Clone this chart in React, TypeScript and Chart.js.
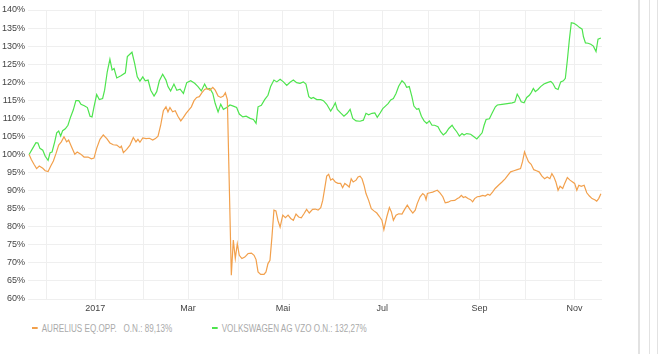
import React, { useEffect, useRef } from "react";
import { Chart, registerables } from "chart.js";

Chart.register(...registerables);

// x = trading-day index (0 = 21 Nov 2016, weekdays only)
const monthTickIdx = [8, 30, 52, 72, 95, 115, 138, 160, 181, 204, 225, 247];
const monthTickLabels = ["", "2017", "", "Mar", "", "Mai", "", "Jul", "", "Sep", "", "Nov"];

const seriesNames = ["AURELIUS EQ.OPP.   O.N.", "VOLKSWAGEN AG VZO O.N."];
const seriesColors = ["#f2a04c", "#4ee44e"];

const aureliusIdx = [
  0, 1.0, 2.2, 3.4, 4.6, 6.2, 7.3, 8.6, 9.8, 11.0, 12.2, 13.4, 14.6, 15.8, 17.0, 17.9, 19.1, 20.7, 21.8, 23.4,
  24.9, 26.7, 28.2, 29.4, 30.6, 32.1, 33.6, 35.2, 36.6, 38.1, 39.7, 41.2, 41.8, 42.7, 44.2, 45.7, 47.2, 48.4, 49.3, 50.2,
  51.5, 53.0, 54.5, 56.0, 57.2, 58.4, 59.6, 60.8, 62.0, 62.9, 63.8, 65.0, 66.2, 67.4, 68.7, 69.9, 71.1, 72.3, 73.5, 74.7,
  75.9, 77.1, 78.3, 79.5, 80.7, 81.9, 83.2, 84.3, 85.6, 86.8, 88.0, 88.9, 89.8, 91.6, 92.5, 93.4, 94.3, 95.2, 96.4, 97.7,
  99.2, 100.7, 101.9, 102.8, 103.7, 104.9, 106.4, 107.3, 108.2, 109.1, 110.0, 110.9, 111.8, 112.7, 113.7, 114.9, 116.1, 117.3, 118.5, 119.7,
  120.9, 122.1, 123.3, 124.5, 125.7, 126.9, 128.4, 129.6, 130.9, 132.1, 133.0, 133.9, 134.8, 135.7, 136.6, 137.5, 138.7, 139.9, 141.1, 142.0,
  143.0, 144.1, 145.0, 145.9, 146.8, 148.1, 149.0, 149.9, 150.8, 151.7, 152.6, 153.8, 155.0, 156.2, 157.5, 158.6, 159.8, 160.7, 162.0, 163.2,
  164.1, 165.0, 166.2, 167.4, 168.9, 170.1, 171.3, 172.5, 173.8, 174.9, 175.8, 177.1, 178.3, 179.2, 179.8, 180.4, 181.6, 182.8, 184.0, 184.9,
  186.1, 187.4, 188.5, 189.8, 191.0, 192.8, 194.0, 194.9, 195.8, 196.7, 197.6, 198.8, 200.0, 200.9, 201.8, 203.0, 204.2, 205.5, 206.6, 207.8,
  208.7, 209.9, 211.1, 212.6, 214.2, 215.7, 216.9, 218.1, 219.6, 221.1, 222.6, 223.5, 224.4, 225.3, 226.2, 227.4, 228.6, 229.8, 231.0, 232.3,
  233.5, 234.7, 235.9, 236.8, 237.7, 238.6, 239.6, 240.5, 241.7, 242.6, 243.8, 245.0, 246.2, 247.1, 248.1, 249.0, 250.1, 251.4, 252.6, 253.8,
  255.0, 256.2, 257.1, 258.0, 259,
];
const aureliusPct = [
  100, 98.6, 97.3, 96.1, 96.8, 96.2, 95.5, 95.3, 96.8, 98.2, 100.3, 102.6, 103.5, 104.9, 103.5, 104.0, 102.3, 100.1, 100.7, 100.1,
  99.3, 99.3, 98.8, 99.0, 101.7, 104.2, 105.4, 104.4, 103.2, 102.7, 102.6, 101.9, 102.3, 100.5, 101.4, 102.6, 104.7, 103.5, 104.2, 103.4,
  104.6, 104.4, 104.5, 104.0, 104.4, 105.1, 108.1, 112.1, 113.2, 111.8, 113.0, 111.8, 112.1, 110.6, 109.3, 110.3, 111.4, 112.3, 113.2, 114.9,
  115.8, 116.0, 117.1, 118.0, 118.3, 117.8, 118.6, 117.8, 116.2, 115.8, 116.2, 117.1, 115.2, 66.6, 76.3, 71.2, 75.3, 72.1, 71.2, 71.6,
  72.6, 72.7, 72.1, 70.9, 67.5, 66.8, 66.8, 67.5, 69.8, 70.7, 77.2, 84.6, 84.4, 81.8, 79.9, 83.2, 82.5, 83.2, 82.3, 81.8,
  83.5, 82.7, 82.5, 83.6, 84.8, 83.8, 84.8, 84.9, 84.6, 85.3, 87.3, 90.6, 94.0, 94.5, 92.9, 93.3, 92.4, 92.0, 92.0, 90.8,
  92.0, 91.5, 91.0, 93.3, 92.4, 92.9, 93.8, 94.0, 93.3, 91.5, 89.2, 87.3, 85.0, 84.4, 83.8, 82.9, 81.8, 79.2, 82.7, 85.3,
  84.1, 81.8, 83.2, 83.6, 83.5, 84.8, 86.0, 84.8, 83.8, 84.6, 86.4, 88.3, 89.2, 88.7, 87.5, 89.2, 89.4, 89.6, 89.9, 90.1,
  89.4, 88.3, 86.6, 86.8, 87.2, 87.3, 87.8, 88.1, 88.7, 88.1, 88.3, 87.8, 87.5, 86.9, 87.8, 88.3, 88.4, 88.7, 88.5, 89.0,
  88.7, 89.6, 90.6, 91.5, 92.4, 93.3, 94.3, 95.2, 95.5, 95.8, 96.1, 98.0, 100.7, 99.3, 98.0, 97.3, 95.8, 95.5, 95.2, 94.0,
  93.3, 93.8, 93.3, 94.7, 93.8, 92.4, 90.1, 91.2, 90.6, 92.0, 93.6, 92.9, 92.4, 92.0, 90.1, 91.5, 91.2, 91.5, 89.4, 88.5,
  87.8, 87.5, 87.1, 87.8, 89.13,
];

const vwIdx = [
  0, 1.6, 3.1, 4.0, 4.9, 6.2, 7.3, 8.6, 9.5, 10.4, 11.6, 12.5, 13.4, 14.3, 15.2, 16.4, 17.6, 18.8, 20.0, 21.2,
  22.5, 23.5, 25.0, 26.4, 27.6, 28.5, 29.4, 30.6, 31.8, 33.3, 34.2, 35.4, 36.6, 37.6, 38.5, 39.7, 41.6, 43.6, 44.5, 46.6,
  47.8, 49.0, 50.2, 51.5, 52.6, 53.9, 55.1, 56.6, 57.8, 59.0, 60.5, 62.0, 62.9, 64.1, 65.6, 66.9, 68.4, 69.9, 71.4, 73.2,
  75.0, 76.5, 78.0, 79.5, 80.7, 81.9, 83.2, 84.3, 85.6, 86.8, 88.0, 89.5, 91.0, 92.5, 94.0, 95.2, 96.8, 98.3, 100.1, 101.6,
  102.8, 103.7, 105.2, 106.7, 108.2, 109.4, 110.9, 112.2, 113.7, 115.2, 116.7, 118.2, 119.7, 121.2, 122.7, 124.2, 125.4, 126.7, 127.8, 128.7,
  130.3, 132.1, 133.3, 134.8, 136.6, 137.8, 138.7, 139.6, 141.1, 142.6, 144.1, 145.4, 146.6, 148.1, 149.9, 151.4, 152.6, 153.8, 155.3, 156.6,
  157.7, 159.0, 160.2, 161.4, 162.6, 163.8, 165.0, 166.2, 167.4, 168.9, 170.1, 171.0, 172.2, 173.4, 174.3, 175.6, 176.5, 177.7, 178.9, 180.1,
  181.3, 182.5, 183.7, 185.2, 186.4, 187.6, 188.8, 190.1, 191.6, 192.5, 193.7, 194.9, 196.1, 197.0, 198.2, 200.0, 201.5, 202.8, 203.9, 205.2,
  206.1, 207.0, 208.5, 209.7, 211.2, 212.1, 214.2, 216.6, 218.8, 220.0, 221.1, 222.0, 222.9, 224.2, 225.4, 226.6, 227.5, 228.4, 229.3, 230.5,
  231.7, 233.2, 234.7, 236.3, 237.2, 238.4, 239.6, 240.8, 242.0, 242.9, 243.8, 244.7, 245.6, 246.8, 248.1, 249.2, 250.5, 251.1, 252.0, 253.2,
  254.4, 255.6, 256.8, 257.7, 259,
];
const vwPct = [
  100, 101.7, 103.3, 103.2, 101.7, 101.2, 99.5, 98.4, 100.5, 100.7, 103.5, 106.0, 106.5, 105.1, 106.6, 107.1, 108.1, 110.4, 112.3, 114.9,
  114.9, 113.9, 113.5, 113.0, 110.6, 110.4, 113.2, 116.6, 115.2, 115.5, 117.8, 122.9, 126.4, 123.4, 123.8, 121.2, 121.8, 122.6, 127.1, 128.3,
  125.2, 121.5, 120.3, 121.5, 120.4, 120.6, 117.8, 116.2, 117.4, 120.4, 122.2, 120.6, 118.8, 117.6, 119.5, 117.8, 118.1, 116.9, 119.9, 120.4,
  119.7, 118.8, 117.6, 119.5, 118.1, 118.3, 116.9, 114.1, 111.8, 113.9, 112.5, 113.0, 113.7, 113.4, 113.0, 111.2, 110.4, 110.6, 110.0, 109.7,
  108.6, 113.2, 113.6, 115.2, 116.4, 118.8, 120.6, 120.1, 120.8, 120.1, 119.1, 120.0, 120.6, 119.9, 119.7, 120.1, 119.5, 116.0, 115.5, 115.8,
  115.2, 115.2, 114.9, 113.9, 112.0, 113.2, 114.3, 112.5, 111.5, 110.6, 111.4, 112.5, 110.0, 109.3, 109.2, 109.5, 111.4, 111.0, 111.4, 111.5,
  110.3, 111.5, 112.7, 113.4, 114.1, 115.1, 115.5, 116.9, 118.9, 120.4, 119.7, 118.6, 118.8, 116.0, 113.4, 112.5, 112.7, 110.6, 109.3, 108.6,
  109.3, 108.1, 108.1, 107.7, 106.3, 105.4, 106.0, 107.2, 108.1, 107.2, 106.3, 105.1, 105.8, 105.4, 105.8, 105.6, 104.9, 104.3, 105.1, 106.0,
  108.1, 109.7, 109.9, 111.4, 113.2, 113.7, 113.9, 114.1, 114.3, 114.5, 116.7, 115.8, 114.6, 114.3, 115.8, 116.4, 117.2, 118.3, 117.4, 118.0,
  118.8, 119.5, 119.9, 120.2, 119.7, 118.3, 118.0, 120.1, 120.4, 121.1, 126.1, 131.7, 136.5, 136.3, 135.8, 135.2, 134.7, 132.6, 130.9, 130.8,
  130.5, 130.0, 128.5, 131.9, 132.27,
];

const yMin = 60;
const yMax = 140;
const yStep = 5;

const FONT = "'Liberation Sans', Arial, sans-serif";

function toPoints(xs: number[], ys: number[]) {
  return xs.map((x, i) => ({ x, y: ys[i] }));
}

function fmt(v: number) {
  return v.toFixed(2).replace(".", ",") + "%";
}

export default function App() {
  const ref = useRef<HTMLCanvasElement>(null);

  useEffect(() => {
    const canvas = ref.current;
    if (!canvas) return;
    const chart = new Chart(canvas, {
      type: "line",
      data: {
        datasets: [
          {
            label: seriesNames[0],
            data: toPoints(aureliusIdx, aureliusPct),
            borderColor: seriesColors[0],
            backgroundColor: seriesColors[0],
            borderWidth: 1.2,
            pointRadius: 0,
            tension: 0,
            fill: false,
          },
          {
            label: seriesNames[1],
            data: toPoints(vwIdx, vwPct),
            borderColor: seriesColors[1],
            backgroundColor: seriesColors[1],
            borderWidth: 1.2,
            pointRadius: 0,
            tension: 0,
            fill: false,
          },
        ],
      },
      options: {
        responsive: false,
        animation: false,
        events: [],
        layout: { padding: { top: 10, right: 8, left: 0, bottom: 0 } },
        plugins: { legend: { display: false }, tooltip: { enabled: false } },
        scales: {
          x: {
            type: "linear",
            min: -0.5,
            max: 259.5,
            bounds: "data",
            grid: { color: "#efefef", drawTicks: false, lineWidth: 1 },
            border: { display: false },
            afterBuildTicks: (scale: any) => {
              scale.ticks = monthTickIdx.map((v) => ({ value: v }));
            },
            afterFit: (scale: any) => {
              scale.height = 21;
            },
            ticks: {
              autoSkip: false,
              maxRotation: 0,
              padding: 4,
              color: "#444",
              font: { family: FONT, size: 9 },
              callback: (_v: any, i: number) => monthTickLabels[i],
            },
          },
          y: {
            min: yMin,
            max: yMax,
            grid: { color: "#efefef", drawTicks: false, lineWidth: 1 },
            border: { display: false },
            afterFit: (scale: any) => {
              scale.width = 28;
            },
            ticks: {
              stepSize: yStep,
              padding: 3,
              color: "#444",
              font: { family: FONT, size: 9 },
              callback: (v: any) => v + "%",
            },
          },
        },
      },
    });
    return () => chart.destroy();
  }, []);

  const lastVals = [aureliusPct[aureliusPct.length - 1], vwPct[vwPct.length - 1]];
  const legendX = [32, 212];

  return (
    <div
      style={{
        position: "fixed",
        left: 0,
        top: 0,
        width: 671,
        height: 354,
        background: "#fff",
        overflow: "hidden",
        fontFamily: FONT,
      }}
    >
      <canvas ref={ref} width={610} height={320} style={{ position: "absolute", left: 0, top: 0 }} />
      {seriesNames.map((name, i) => (
        <div
          key={name}
          style={{
            position: "absolute",
            left: legendX[i],
            top: 321,
            height: 14,
            display: "flex",
            alignItems: "center",
            whiteSpace: "pre",
            fontSize: 10,
            color: "#aaa",
            transform: "scaleX(0.81)",
            transformOrigin: "left center",
          }}
        >
          <span
            style={{
              display: "inline-block",
              width: 7,
              height: 2,
              background: seriesColors[i],
              marginRight: 5,
            }}
          />
          <span>{name + ": " + fmt(lastVals[i])}</span>
        </div>
      ))}
      <div style={{ position: "absolute", left: 638, top: 0, width: 2, height: 354, background: "#e2e2e2" }} />
      <div style={{ position: "absolute", left: 649, top: 0, width: 1, height: 354, background: "#e2e2e2" }} />
      <div style={{ position: "absolute", left: 657, top: 0, width: 1, height: 354, background: "#e2e2e2" }} />
    </div>
  );
}
